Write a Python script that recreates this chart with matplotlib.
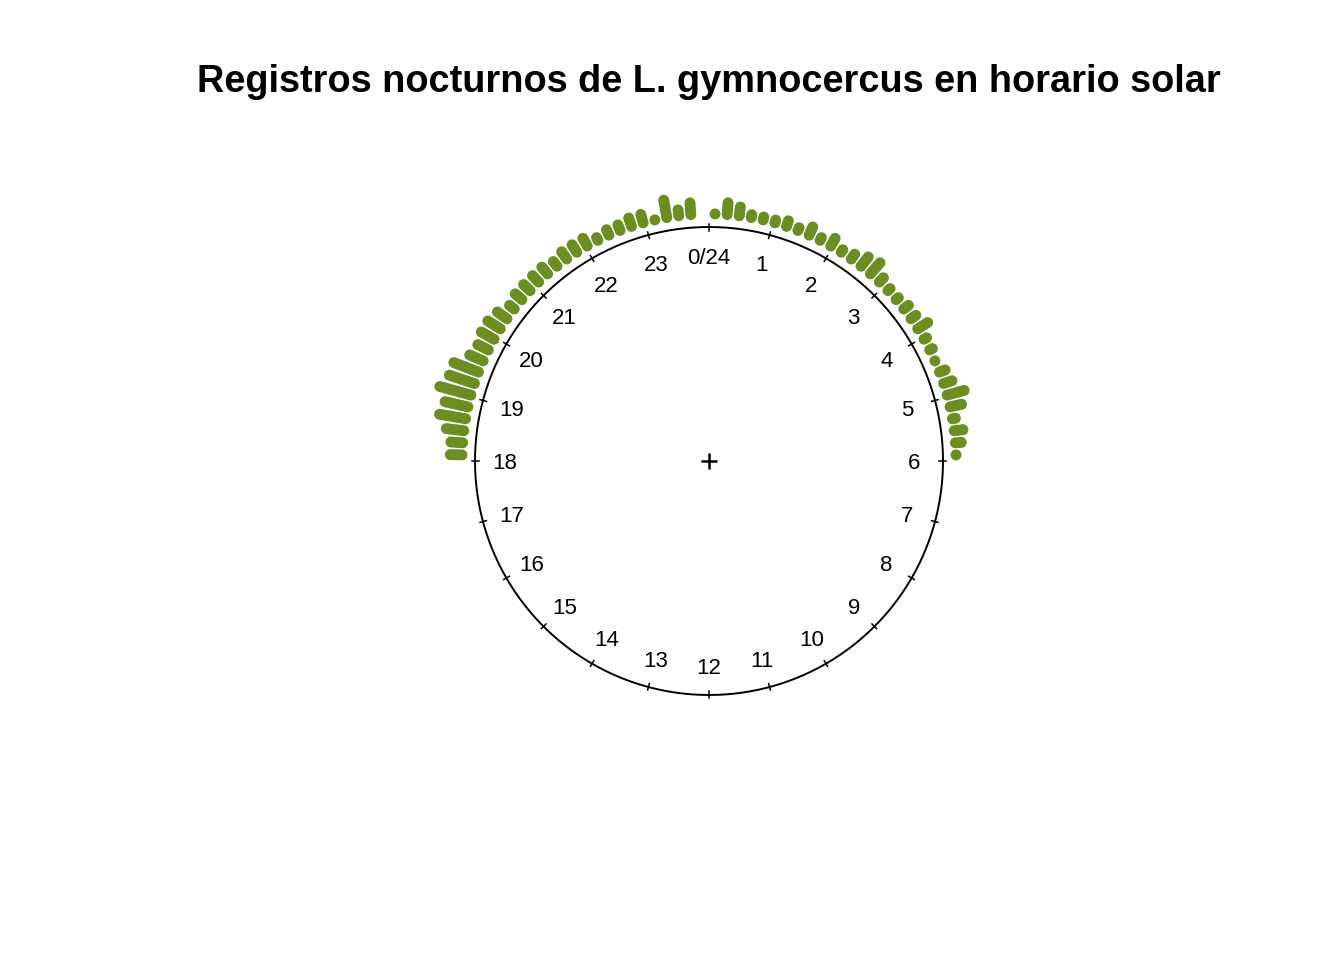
import numpy as np
import matplotlib
matplotlib.use('Agg')
import matplotlib.pyplot as plt

plt.rcParams['font.family'] = ['Liberation Sans', 'DejaVu Sans']

# records per 1/128-day bin (stacked dots)
n_bins = 128
counts_18_24 = [5, 5, 7, 10, 9, 12, 10, 10, 6, 5, 6, 6, 5, 3, 4, 4,
                4, 4, 3, 4, 4, 4, 2, 3, 3, 4, 4, 1, 7, 3, 5, 0]
counts_0_6 = [1, 5, 4, 2, 2, 2, 3, 2, 4, 2, 4, 2, 3, 5, 6, 3,
              2, 2, 3, 3, 5, 2, 2, 1, 3, 4, 7, 5, 2, 4, 3, 1]
hour_labels = ['0/24'] + [str(h) for h in range(1, 24)]
title = 'Registros nocturnos de L. gymnocercus en horario solar'

bin_h = 24 / n_bins
hours_18_24 = 18 + (np.arange(len(counts_18_24)) + 0.5) * bin_h
hours_0_6 = (np.arange(len(counts_0_6)) + 0.5) * bin_h
bin_hours = np.concatenate([hours_18_24, hours_0_6])
bin_counts = np.concatenate([counts_18_24, counts_0_6])

start_r = 1.056
sep = 0.0125

fig = plt.figure(figsize=(13.44, 9.6), dpi=100)
ax = fig.add_axes([0, 0, 1, 1])
R = 234.0
ax.set_xlim(-709 / R, (1344 - 709) / R)
ax.set_ylim((461 - 960) / R, 461 / R)
ax.axis('off')

# circle
t = np.linspace(0, 2 * np.pi, 721)
ax.plot(np.sin(t), np.cos(t), color='black', lw=1.4)

# hour ticks and labels
for h in range(24):
    a = h / 24 * 2 * np.pi
    ax.plot([0.985 * np.sin(a), 1.013 * np.sin(a)],
            [0.985 * np.cos(a), 1.013 * np.cos(a)], color='black', lw=1.1)
    ax.text(0.875 * np.sin(a), 0.875 * np.cos(a) - 2.5 / R, hour_labels[h],
            ha='center', va='center', fontsize=16)

ax.plot(0, 0, marker='+', color='black', markersize=11, mew=1.8)

# stacked points
xs, ys = [], []
for hr, c in zip(bin_hours, bin_counts):
    a = hr / 24 * 2 * np.pi
    for j in range(int(c)):
        r = start_r + j * sep
        xs.append(r * np.sin(a))
        ys.append(r * np.cos(a))
ax.scatter(xs, ys, s=62, color='olivedrab', edgecolors='none', zorder=3)

fig.text(709 / 1344, 1 - 82 / 960, title, ha='center', va='center',
         fontsize=27.3, fontweight='bold')

fig.savefig('out.png', dpi=100)
